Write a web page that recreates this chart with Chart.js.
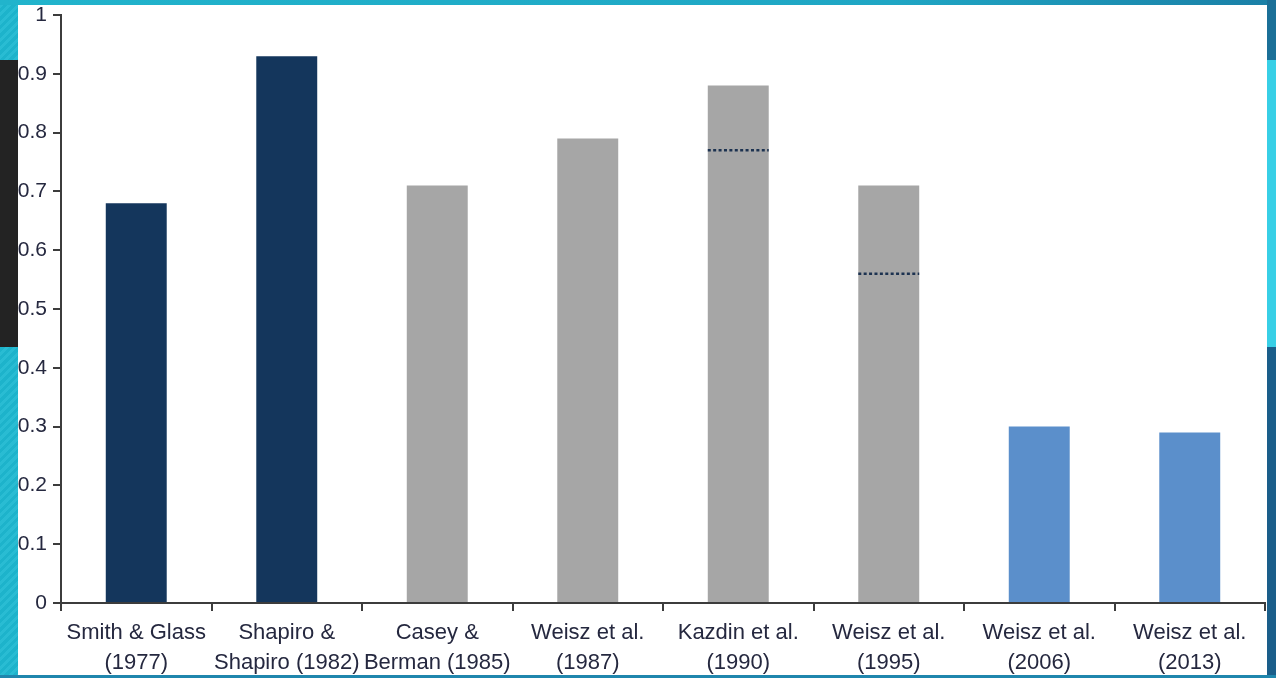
<!DOCTYPE html>
<html>
<head>
<meta charset="utf-8">
<script src="https://cdn.jsdelivr.net/npm/chart.js@4"></script>
<style>
body{margin:0;width:1276px;height:678px;overflow:hidden;position:relative;
  background:repeating-linear-gradient(135deg,#1db3cb 0 3px,#29bcd3 3px 6px);}
#topbar{position:absolute;left:0;top:0;width:1276px;height:5px;
  background:linear-gradient(90deg,#21b4cc 0%,#1fa6c4 70%,#1a7fa6 100%);}
#darkbox{position:absolute;left:0;top:60px;width:18px;height:287px;background:#232323;}
#right1{position:absolute;left:1267px;top:0;width:9px;height:60px;background:#1b7098;}
#right2{position:absolute;left:1267px;top:60px;width:9px;height:287px;background:#38cfe6;}
#right3{position:absolute;left:1267px;top:347px;width:9px;height:331px;background:#1a5e8a;}
#bottom{position:absolute;left:0;top:675px;width:1276px;height:3px;background:#1f86ad;}
#panel{position:absolute;left:18px;top:5px;width:1249px;height:670px;background:#fff;}
</style>
</head>
<body>
<div id="topbar"></div>
<div id="darkbox"></div>
<div id="right1"></div>
<div id="right2"></div>
<div id="right3"></div>
<div id="bottom"></div>
<div id="panel"><canvas id="grafica"></canvas></div>
<script>
/* DATOS */

const studies = [
  ['Smith & Glass', '(1977)'],
  ['Shapiro &', 'Shapiro (1982)'],
  ['Casey &', 'Berman (1985)'],
  ['Weisz et al.', '(1987)'],
  ['Kazdin et al.', '(1990)'],
  ['Weisz et al.', '(1995)'],
  ['Weisz et al.', '(2006)'],
  ['Weisz et al.', '(2013)']
];
const effectSizes = [0.68, 0.93, 0.71, 0.79, 0.88, 0.71, 0.30, 0.29];
const dottedValues = [null, null, null, null, 0.77, 0.56, null, null];
const barColors = ['#14365c', '#14365c', '#a6a6a6', '#a6a6a6', '#a6a6a6', '#a6a6a6', '#5b8fcb', '#5b8fcb'];
const yTickLabels = ['0', '0.1', '0.2', '0.3', '0.4', '0.5', '0.6', '0.7', '0.8', '0.9', '1'];

const fuente = '"Liberation Sans", Arial, sans-serif';
const textColor = '#25283f';
const axisColor = '#3c3c3c';

/* LINEAS PUNTEADAS */

const dottedLines = {
  id: 'dottedLines',
  afterDatasetsDraw(chart) {
    const meta = chart.getDatasetMeta(0);
    const y = chart.scales.y;
    const c = chart.ctx;
    c.save();
    c.strokeStyle = '#1c3250';
    c.lineWidth = 2.5;
    c.setLineDash([3, 2.4]);
    dottedValues.forEach((v, i) => {
      if (v === null) return;
      const bar = meta.data[i];
      const py = y.getPixelForValue(v);
      c.beginPath();
      c.moveTo(bar.x - bar.width / 2, py);
      c.lineTo(bar.x + bar.width / 2, py);
      c.stroke();
    });
    c.restore();
  }
};

/* GRAFICA */

const ctx1 = document.getElementById('grafica');

new Chart(ctx1, {
  type: 'bar',
  data: {
    labels: studies,
    datasets: [{
      data: effectSizes,
      backgroundColor: barColors,
      categoryPercentage: 1,
      barPercentage: 0.405
    }]
  },
  options: {
    responsive: true,
    maintainAspectRatio: false,
    animation: false,
    layout: { padding: { top: 10, right: 2, left: 0, bottom: 0 } },
    plugins: { legend: { display: false }, tooltip: { enabled: false } },
    scales: {
      x: {
        grid: { offset: true, drawOnChartArea: false, tickLength: 8, color: axisColor, lineWidth: 2 },
        border: { color: axisColor, width: 2 },
        ticks: { color: textColor, font: { family: fuente, size: 22, lineHeight: 1.35 }, padding: 7, maxRotation: 0, autoSkip: false },
        afterFit(s) { s.height = 72; }
      },
      y: {
        min: 0,
        max: 1,
        ticks: {
          stepSize: 0.1,
          color: textColor,
          font: { family: fuente, size: 21 },
          padding: 6,
          callback: (v, i) => yTickLabels[i]
        },
        grid: { drawOnChartArea: false, tickLength: 8, color: axisColor, lineWidth: 2 },
        border: { color: axisColor, width: 2 },
        afterFit(s) { s.width = 43; s.paddingTop = 0; s.paddingBottom = 0; }
      }
    }
  },
  plugins: [dottedLines]
});
</script>
</body>
</html>
